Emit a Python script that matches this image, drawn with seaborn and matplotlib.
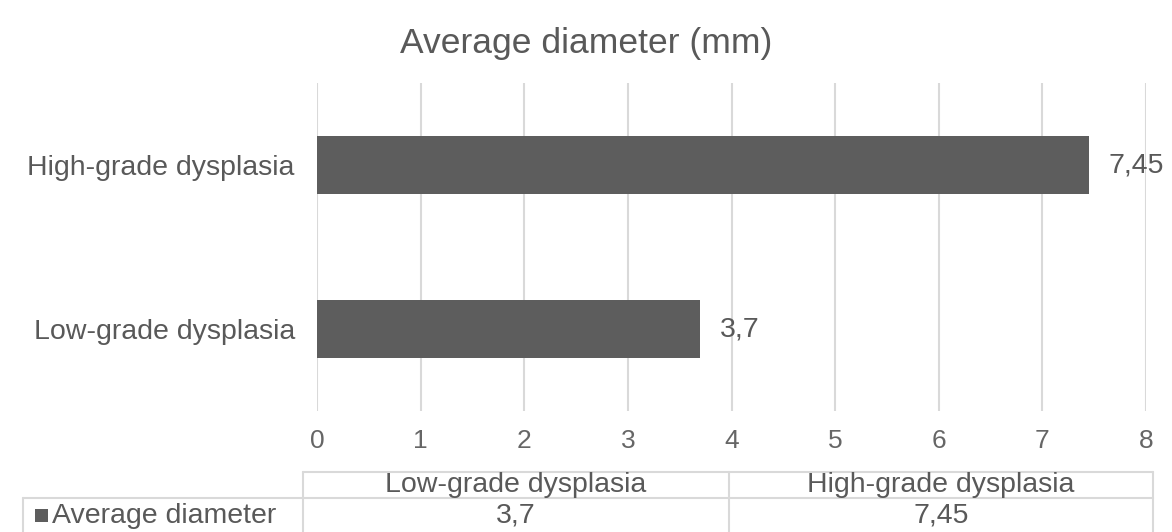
import numpy as np
import pandas as pd
import seaborn as sns
import matplotlib.pyplot as plt
from matplotlib.patches import Rectangle

# Data
categories = ["High-grade dysplasia", "Low-grade dysplasia"]
diameters = [7.45, 3.7]
value_labels = ["7,45", "3,7"]
table_columns = ["Low-grade dysplasia", "High-grade dysplasia"]
table_values = ["3,7", "7,45"]
series_name = "Average diameter"
x_ticks = [0, 1, 2, 3, 4, 5, 6, 7, 8]

W, H = 1172, 532
bar_color = "#5d5d5d"
text_color = "#595959"
grid_color = "#d9d9d9"

sns.set_theme(style="white")
plt.rcParams['font.family'] = ['Liberation Sans', 'DejaVu Sans']

df = pd.DataFrame({"category": categories, "diameter": diameters})

fig = plt.figure(figsize=(W / 100, H / 100), dpi=100)
fig.patch.set_facecolor("white")

# main axes, placed in pixel terms
ax_left, ax_right, ax_top, ax_bottom = 317, 1146, 83, 411
ax = fig.add_axes([ax_left / W, 1 - ax_bottom / H,
                   (ax_right - ax_left) / W, (ax_bottom - ax_top) / H])

sns.barplot(data=df, x="diameter", y="category", order=categories,
            color=bar_color, width=0.35, saturation=1, ax=ax,
            edgecolor="none")

ax.set_xlim(0, 8)
ax.set_ylim(1.5, -0.5)
ax.set_xticks(x_ticks)
ax.set_xticklabels([str(t) for t in x_ticks], fontsize=19, color="#666666")
ax.tick_params(axis="y", labelsize=20.5, labelcolor=text_color, length=0, pad=16)
ax.tick_params(axis="x", length=0, pad=13)
ax.set_xlabel("")
ax.set_ylabel("")
ax.grid(axis="x", color=grid_color, linewidth=1.5)
ax.set_axisbelow(True)
for s in ax.spines.values():
    s.set_visible(False)

# value labels at bar ends
for i, (v, lab) in enumerate(zip(diameters, value_labels)):
    ax.annotate(lab, xy=(v, i), xytext=(14, 0), textcoords="offset points",
                va="center", ha="left", fontsize=20.5, color=text_color)

fig.text(0.5, 1 - 43 / H, "Average diameter (mm)", ha="center", va="center",
         fontsize=25.5, color=text_color)

# data table under the chart, drawn on an overlay in pixel coords
tax = fig.add_axes([0, 0, 1, 1])
tax.set_xlim(0, W)
tax.set_ylim(H, 0)
tax.axis("off")
tax.patch.set_alpha(0)

t_left, t_mid, t_right, lab_left = 303, 729, 1153, 23
head_top, data_top, t_bottom = 472, 498, 540
lw = 1.5
tax.plot([t_left, t_right], [head_top, head_top], color=grid_color, lw=lw)
tax.plot([lab_left, t_right], [data_top, data_top], color=grid_color, lw=lw)
tax.plot([lab_left, lab_left], [data_top, t_bottom], color=grid_color, lw=lw)
for xv in [t_left, t_mid, t_right]:
    tax.plot([xv, xv], [head_top, t_bottom], color=grid_color, lw=lw)

col_centers = [(t_left + t_mid) / 2, (t_mid + t_right) / 2]
for cx, name, val in zip(col_centers, table_columns, table_values):
    tax.text(cx, 485, name, ha="center", va="center", fontsize=20.5, color=text_color)
    tax.text(cx, 516, val, ha="center", va="center", fontsize=20.5, color=text_color)

tax.add_patch(Rectangle((35, 509), 13, 13, color=bar_color, lw=0))
tax.text(52, 516, series_name, ha="left", va="center", fontsize=20.5, color=text_color)

fig.savefig("out.png", dpi=100, facecolor="white")
